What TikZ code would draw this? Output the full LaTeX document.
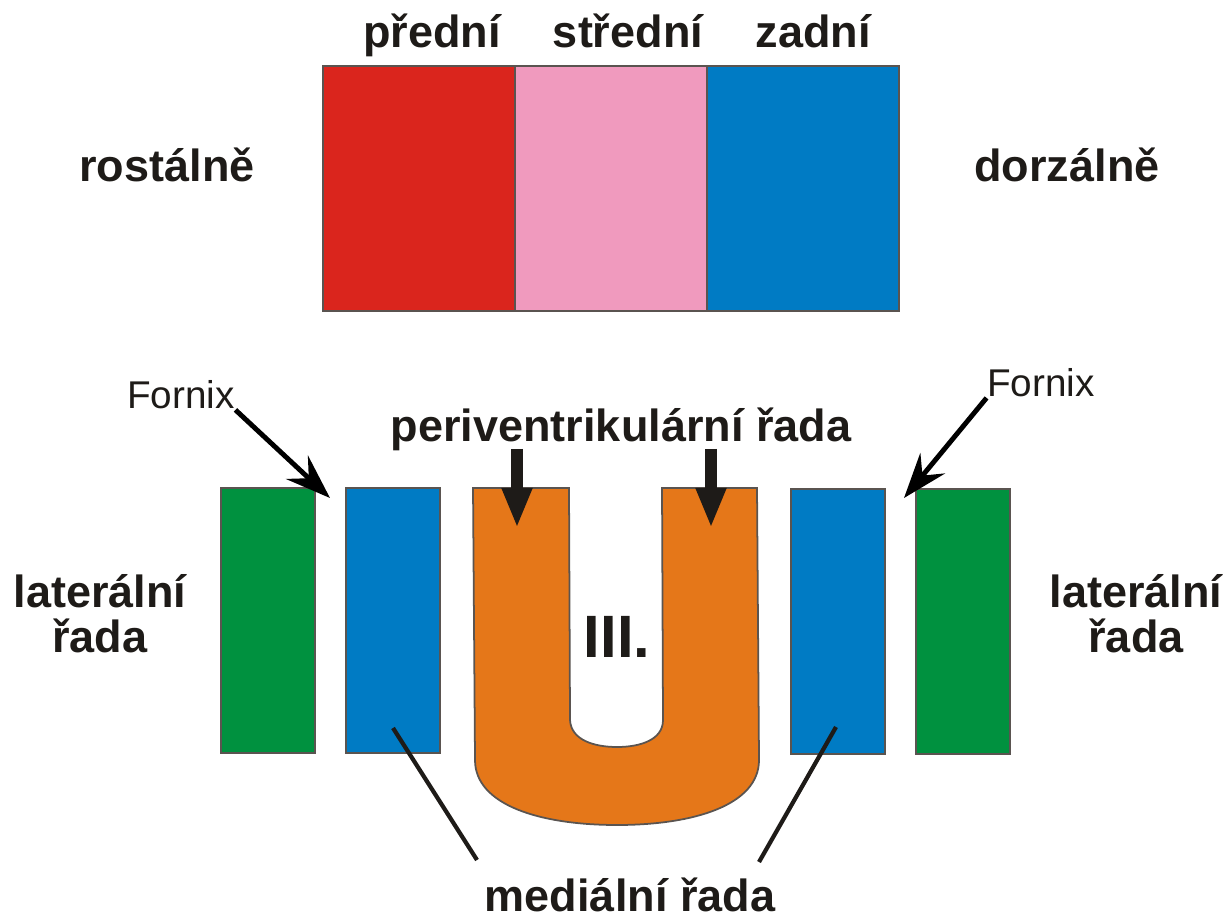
\documentclass[tikz,border=0pt]{standalone}
\usepackage{fontspec}
\setmainfont{Liberation Sans}
\usepackage{tikz}
\usetikzlibrary{arrows.meta,positioning}
\definecolor{hyRed}{HTML}{DA251D}
\definecolor{hyPink}{HTML}{F09ABE}
\definecolor{hyBlue}{HTML}{007BC4}
\definecolor{hyGreen}{HTML}{00913F}
\definecolor{hyOrange}{HTML}{E57719}
\definecolor{hyText}{HTML}{1E1B18}
\definecolor{hyEdge}{HTML}{5A5450}

\begin{document}
\begin{tikzpicture}[x=0.01cm, y=-0.01cm,
  band/.style={draw=hyEdge, line width=0.5pt, inner sep=0, outer sep=0, minimum width=1.92cm, minimum height=2.45cm},
  col/.style={draw=hyEdge, line width=0.5pt, inner sep=0, outer sep=0, minimum width=0.94cm, minimum height=2.65cm},
  lab/.style={inner sep=0, text=hyText, font=\fontsize{12.8}{12.8}\selectfont\bfseries, align=center},
  thin/.style={inner sep=0, text=hyText, font=\fontsize{11}{11}\selectfont},
  fx/.style={-{Stealth[length=4.5mm, width=3.2mm, inset=1.6mm]}, line width=1.4pt, color=black},
  down/.style={-{Triangle[length=4mm, width=2.8mm]}, line width=3.4pt, color=hyText},
  lead/.style={line width=1.2pt, color=hyText}
]
  \useasboundingbox (0,0) rectangle (1228,919);

  % upper strip
  \node[band, fill=hyRed] (front) at (419,188.5) {};
  \node[band, fill=hyPink, right=0pt of front] (middle) {};
  \node[band, fill=hyBlue, right=0pt of middle] (back) {};
  \node[lab, anchor=base] (tFront) at (432,48) {přední};
  \node[lab, anchor=base] (tMiddle) at (628,48) {střední};
  \node[lab, anchor=base] (tBack) at (813,48) {zadní};
  \node[lab, anchor=base] (rostral) at (167,182) {rostálně};
  \node[lab, anchor=base] (dorsal) at (1067,182) {dorzálně};

  % lower row
  \node[col, fill=hyGreen] (latL) at (268,620.5) {};
  \node[col, fill=hyBlue, right=0.31cm of latL] (medL) {};
  \node[col, fill=hyBlue] (medR) at (838,621.5) {};
  \node[col, fill=hyGreen, right=0.31cm of medR] (latR) {};

  % the U
  \draw[draw=hyEdge, line width=0.5pt, fill=hyOrange]
    (473,488) -- (475,760) .. controls (475,805) and (540,825) .. (617,825)
    .. controls (694,825) and (759,805) .. (759,760) -- (757,488) -- (662,488)
    -- (663,720) .. controls (663,740) and (640,747) .. (617,747)
    .. controls (594,747) and (571,740) .. (570,720) -- (569,488) -- cycle;
  \node[inner sep=0, text=hyText, font=\fontsize{17}{17}\selectfont\bfseries] (third) at (617,637) {III.};

  \node[lab, anchor=base] (peri) at (621,442) {periventrikulární řada};
  \coordinate (periA) at (517,449);
  \coordinate (periB) at (711,449);
  \coordinate (tipA) at (517,528);
  \coordinate (tipB) at (711,528);
  \draw[down] (periA) -- (tipA);
  \draw[down] (periB) -- (tipB);

  \node[thin] (fxL) at (181,395) {Fornix};
  \node[thin] (fxR) at (1041,383) {Fornix};
  \coordinate (gapL) at (330,498);
  \coordinate (gapR) at (904,498);
  \draw[fx] (fxL.south east) -- (gapL);
  \draw[fx] (fxR.south west) -- (gapR);

  \node[lab] (latTL) at (100,614) {laterální\\řada};
  \node[lab] (latTR) at (1136,614) {laterální\\řada};

  \node[lab, anchor=base] (med) at (630,911) {mediální řada};
  \coordinate (inL) at (393,728);
  \coordinate (inR) at (836,727);
  \coordinate (endL) at (477,860);
  \coordinate (endR) at (759,862);
  \draw[lead] (inL) -- (endL);
  \draw[lead] (inR) -- (endR);
\end{tikzpicture}
\end{document}
